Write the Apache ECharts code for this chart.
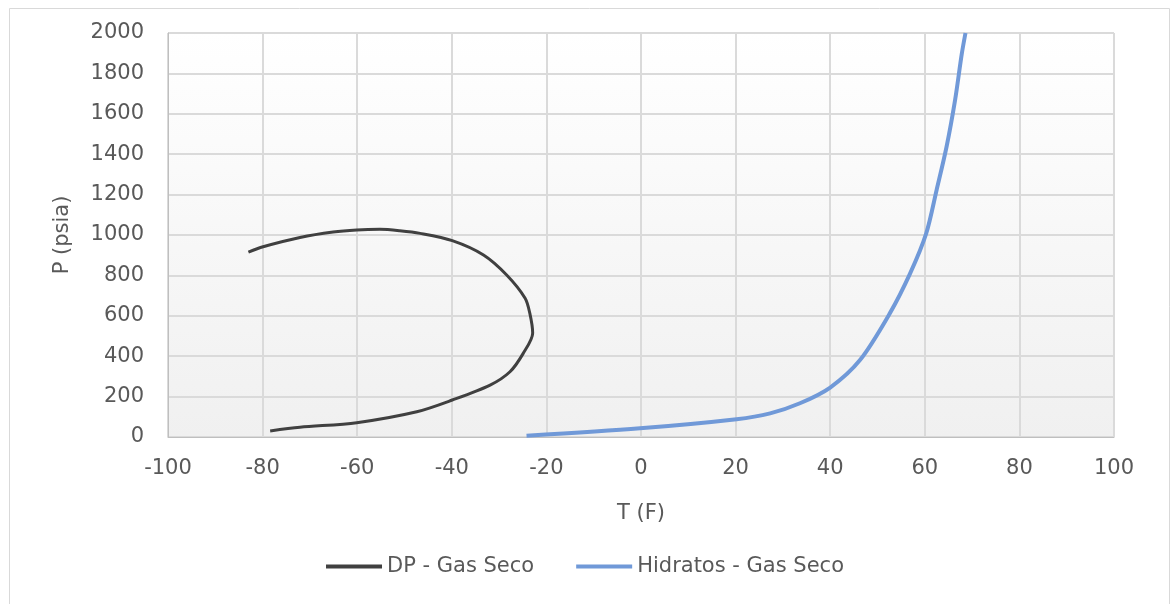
<!DOCTYPE html>
<html>
<head>
<meta charset="utf-8">
<script src="https://cdn.jsdelivr.net/npm/echarts@6/dist/echarts.min.js"></script>
<style>
html,body{margin:0;padding:0;background:#fff;}
#main{width:1170px;height:604px;}
</style>
</head>
<body>
<div id="main"></div>
<script>
// Dew point curve - Gas Seco
const dpT = [-83.0, -79.9, -72.1, -65.1, -60.1, -55.2, -51.0, -46.7, -39.9, -33.3, -28.4, -24.5, -23.5, -22.9, -24.9, -27.7, -31.9, -39.9, -47.4, -60.1, -72.1, -78.4];
const dpP = [915, 942, 988, 1015, 1025, 1028, 1021, 1008, 972, 901, 802, 687, 612, 515, 414, 323, 257, 183, 125, 71, 48, 30];
// Hydrate curve - Gas Seco
const hydT = [-24.2, -0.2, 20.2, 27.3, 33.6, 40.0, 46.3, 52.6, 56.9, 60.3, 62.5, 64.6, 66.4, 67.8, 68.6];
const hydP = [6, 43, 88, 117, 167, 245, 381, 612, 810, 1008, 1223, 1437, 1668, 1894, 2000];

const seriesNames = ['DP - Gas Seco', 'Hidratos - Gas Seco'];
const xTitle = 'T (F)';
const yTitle = 'P (psia)';

const font = 'DejaVu Sans';
const txt = '#595959';

const chart = echarts.init(document.getElementById('main'));
chart.setOption({
  animation: false,
  backgroundColor: '#ffffff',
  graphic: [{
    type: 'rect', left: 7, top: 6, silent: true,
    shape: {width: 1160, height: 610},
    style: {fill: 'none', stroke: '#d9d9d9', lineWidth: 1}
  }],
  grid: {
    left: 168, right: 56, top: 33, bottom: 167,
    show: true,
    borderColor: '#d9d9d9', borderWidth: 1,
    backgroundColor: new echarts.graphic.LinearGradient(0, 0, 0, 1, [
      {offset: 0, color: '#ffffff'},
      {offset: 1, color: '#f0f0f0'}
    ])
  },
  legend: {
    bottom: 22, left: 'center',
    itemWidth: 56, itemHeight: 4, itemGap: 42,
    icon: 'rect',
    textStyle: {fontFamily: font, fontSize: 21, color: txt},
    data: seriesNames
  },
  xAxis: {
    type: 'value', min: -100, max: 100, interval: 20,
    name: xTitle, nameLocation: 'middle', nameGap: 66,
    nameTextStyle: {fontFamily: font, fontSize: 21, color: txt},
    axisLine: {show: true, onZero: false, lineStyle: {color: '#bfbfbf', width: 1}},
    axisTick: {show: false},
    axisLabel: {fontFamily: font, fontSize: 21, color: txt, margin: 21},
    splitLine: {show: true, lineStyle: {color: '#dadada', width: 2}}
  },
  yAxis: {
    type: 'value', min: 0, max: 2000, interval: 200,
    name: yTitle, nameLocation: 'middle', nameGap: 95,
    nameTextStyle: {fontFamily: font, fontSize: 21, color: txt},
    axisLine: {show: true, onZero: false, lineStyle: {color: '#bfbfbf', width: 1}},
    axisTick: {show: false},
    axisLabel: {fontFamily: font, fontSize: 21, color: txt, margin: 24, formatter: v => String(v)},
    splitLine: {show: true, lineStyle: {color: '#dadada', width: 2}}
  },
  series: [
    {
      name: seriesNames[0], type: 'line', smooth: 0.3, showSymbol: false,
      lineStyle: {color: '#404040', width: 3},
      itemStyle: {color: '#404040'},
      data: dpT.map((t, i) => [t, dpP[i]])
    },
    {
      name: seriesNames[1], type: 'line', smooth: 0.3, showSymbol: false,
      lineStyle: {color: '#7099d8', width: 4},
      itemStyle: {color: '#7099d8'},
      data: hydT.map((t, i) => [t, hydP[i]])
    }
  ]
});
</script>
</body>
</html>
